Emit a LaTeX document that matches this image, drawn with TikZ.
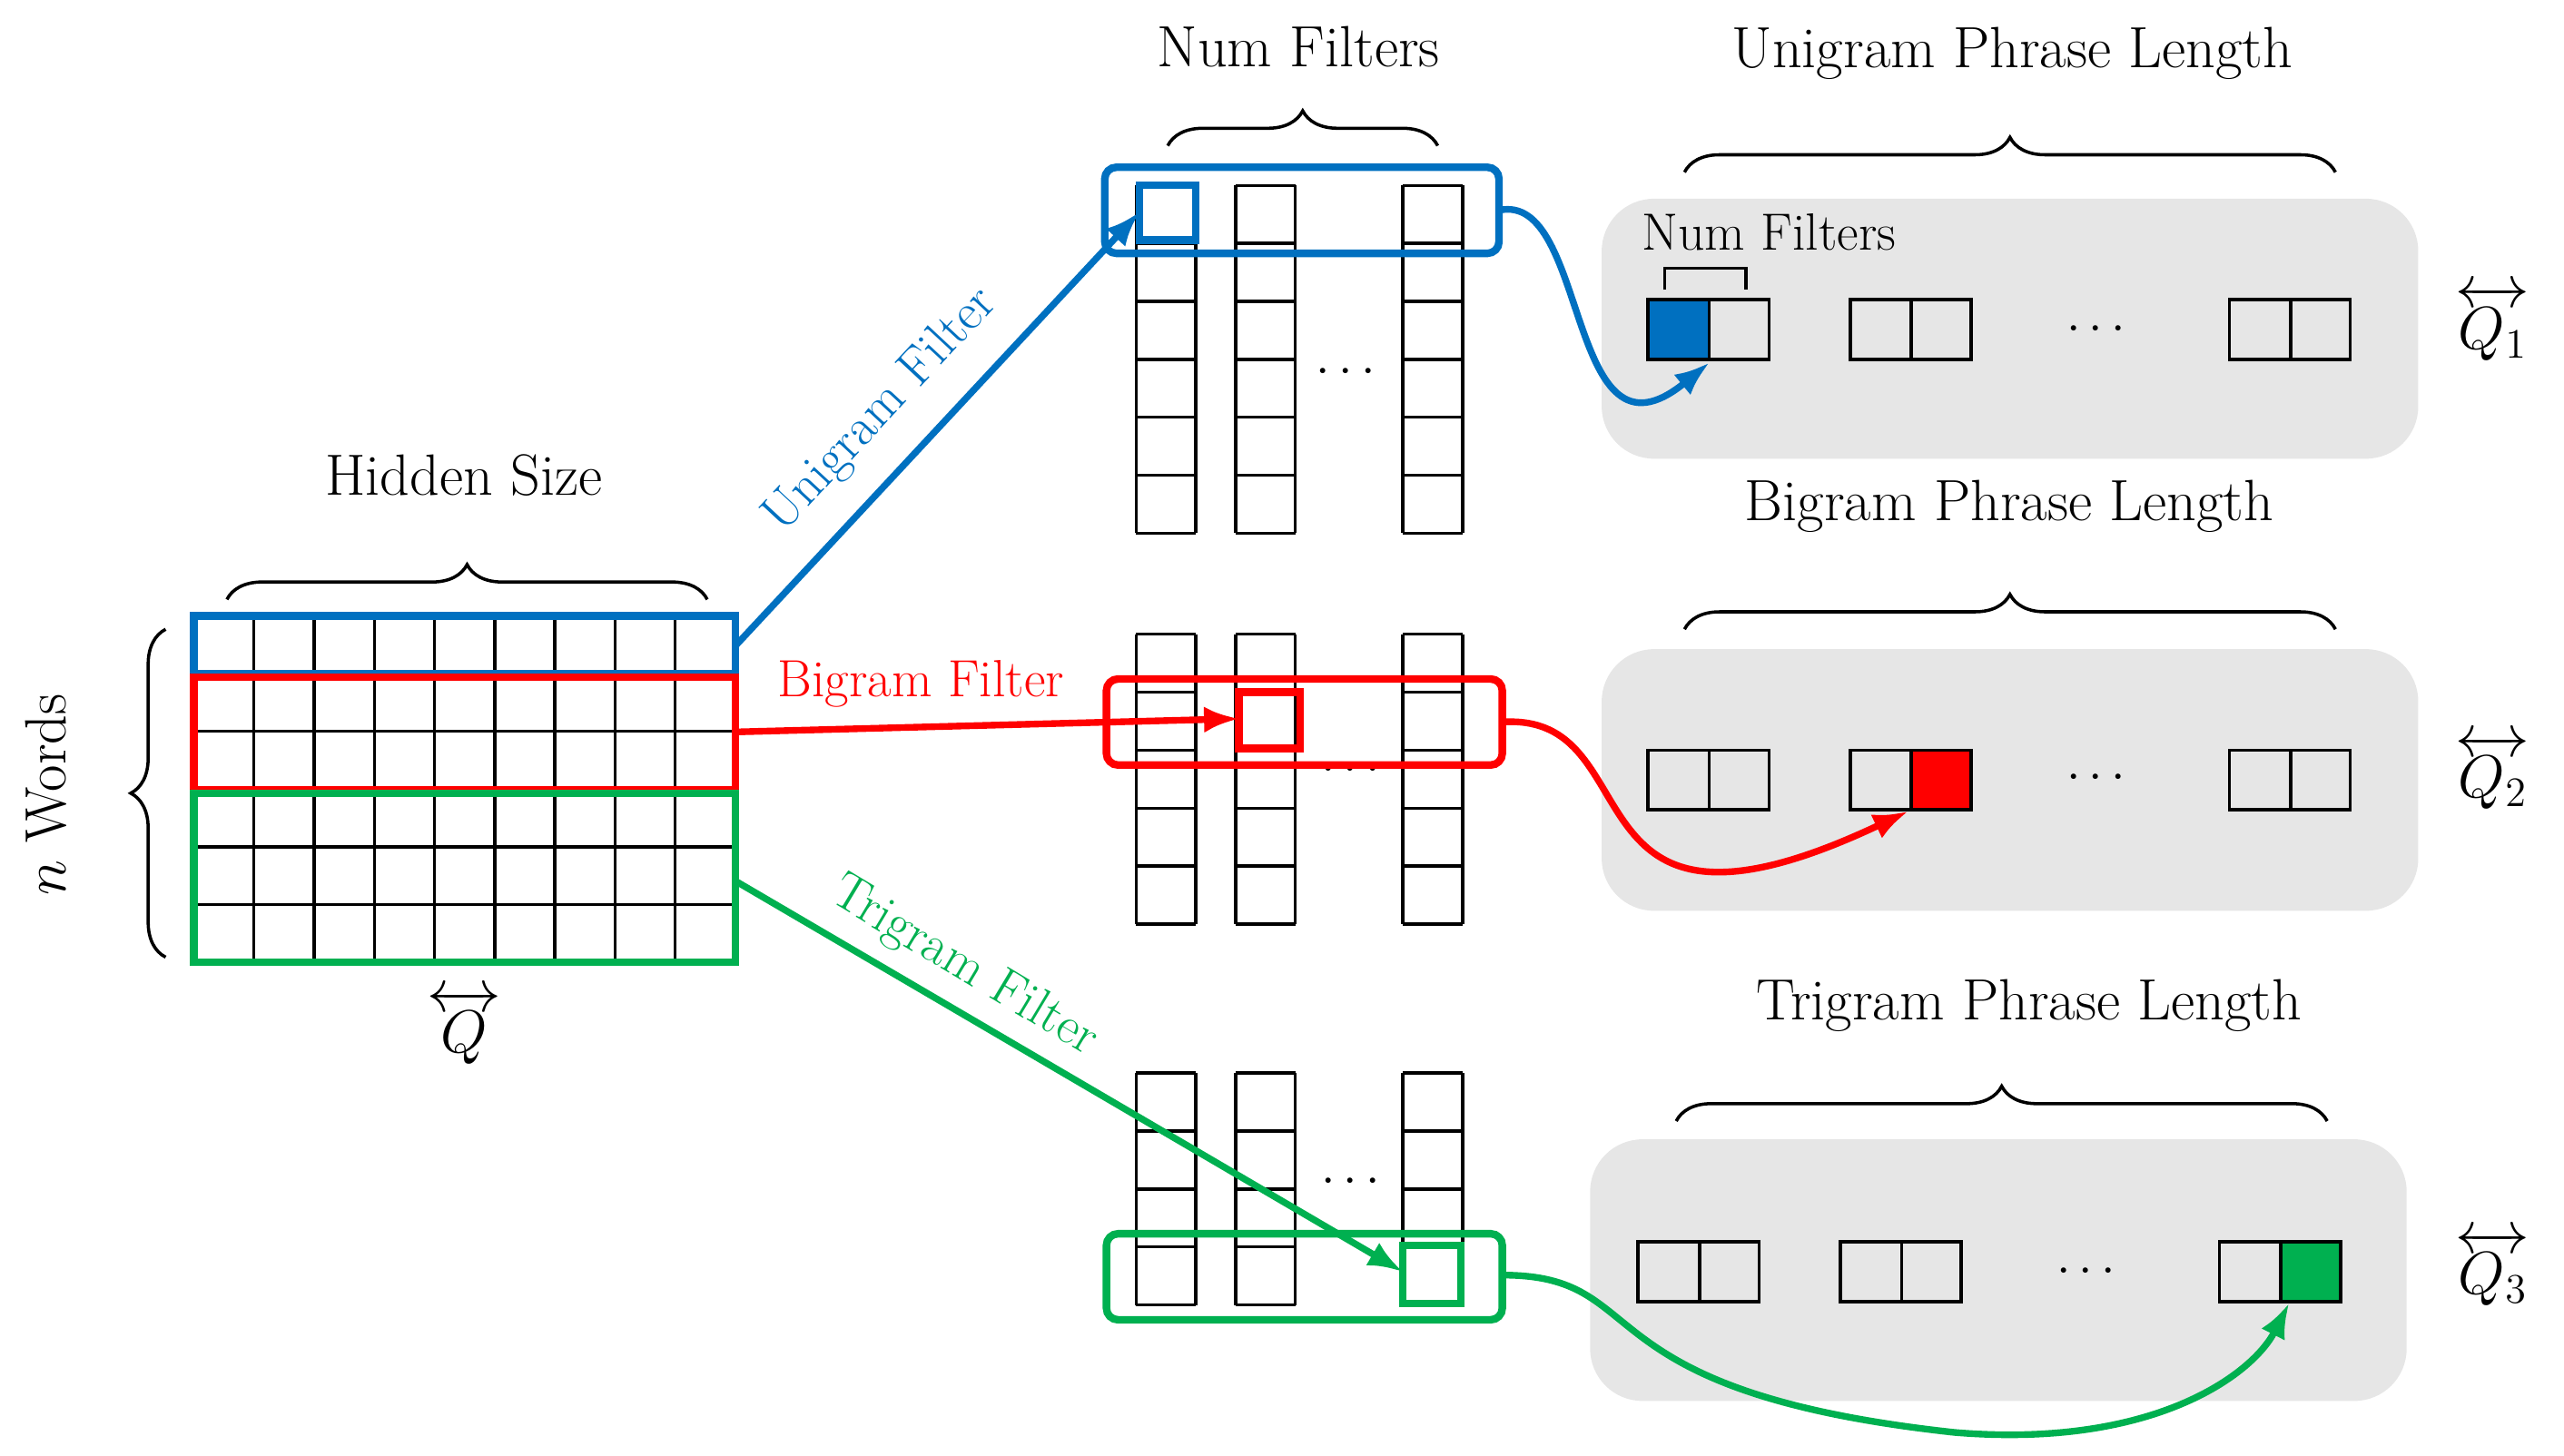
\documentclass[tikz,border=0pt]{standalone}
\usepackage{amsmath}
\usetikzlibrary{decorations.pathreplacing,arrows.meta}
\definecolor{cb}{RGB}{0,112,192}
\definecolor{cr}{RGB}{255,0,0}
\definecolor{cg}{RGB}{0,176,80}
\definecolor{pg}{RGB}{230,230,230}
\begin{document}
\begin{tikzpicture}[x=0.02cm,y=-0.02cm,
  grid/.style={line width=1.1pt,black},
  hl/.style={line width=2.6pt,rounded corners=4pt},
  conn/.style={line width=2.3pt,-{Latex[length=12pt,width=9pt]}},
  brc/.style={decorate,decoration={brace,amplitude=12pt},line width=1.1pt},
  big/.style={font=\fontsize{20}{24}\selectfont},
  mid/.style={font=\fontsize{18}{22}\selectfont},
  panel/.style={fill=pg,draw=none,rounded corners=18pt}]
\useasboundingbox (0,0) rectangle (1548,879);
% matrix
\foreach \i in {0,...,9} \draw[grid] ({117+\i*36.33},372) -- ({117+\i*36.33},581);
\foreach \j in {0,...,6} \draw[grid] (117,{372+\j*34.83}) -- (444,{372+\j*34.83});
\draw[hl,cb,rounded corners=0] (117,372) rectangle (444,407);
\draw[hl,cr,rounded corners=0] (117,409) rectangle (444,477);
\draw[hl,cg,rounded corners=0] (117,479) rectangle (444,581);
\coordinate (mb) at (444,390); \coordinate (mr) at (444,442); \coordinate (mg) at (444,532);
\draw[brc] (137,362) -- (427,362);
\node[big] (hs) at (280,287) {Hidden Size};
\draw[brc] (100,578) -- (100,380);
\node[big,rotate=90] (nw) at (28,480) {$n$ Words};
\node[big] (q) at (280,620) {$\overleftrightarrow{Q}$};
% columns
\foreach \x in {686,746,847}{
  \foreach \j in {0,...,6} \draw[grid] (\x,{112+\j*35}) -- ({\x+36},{112+\j*35});
  \draw[grid] (\x,112) -- (\x,322) ({\x+36},112) -- ({\x+36},322);
  \foreach \j in {0,...,5} \draw[grid] (\x,{383+\j*35}) -- ({\x+36},{383+\j*35});
  \draw[grid] (\x,383) -- (\x,558) ({\x+36},383) -- ({\x+36},558);
  \foreach \j in {0,...,4} \draw[grid] (\x,{648+\j*35}) -- ({\x+36},{648+\j*35});
  \draw[grid] (\x,648) -- (\x,788) ({\x+36},648) -- ({\x+36},788);
}
\node[mid] at (815,225) {$\cdots$};
\node[mid] at (818,465) {$\cdots$};
\node[mid] at (818,714) {$\cdots$};
\draw[brc] (705,88) -- (868,88);
\node[big] (nf) at (784,28) {Num Filters};
\draw[hl,cb] (667,101) rectangle (905,153);
\draw[hl,cb,rounded corners=0] (688,112) rectangle (722,145);
\draw[hl,cr] (668,410) rectangle (907,462);
\draw[hl,cr,rounded corners=0] (748,418) rectangle (785,452);
\draw[hl,cg] (668,745) rectangle (907,797);
\draw[hl,cg,rounded corners=0] (847,752) rectangle (882,787);
\coordinate (ub) at (688,128); \coordinate (br) at (748,434); \coordinate (tg) at (847,768);
% filter arrows
\draw[conn,cb] (mb) -- (ub);
\draw[conn,cr] (mr) -- (br);
\draw[conn,cg] (mg) -- (tg);
\node[mid,cb,rotate=47] at (532,248) {Unigram Filter};
\node[mid,cr] at (556,413) {Bigram Filter};
\node[mid,cg,rotate=-31] at (582,584) {Trigram Filter};
% panels
\fill[panel] (967,120) rectangle (1460,277);
\fill[panel] (967,392) rectangle (1460,550);
\fill[panel] (960,688) rectangle (1453,846);
\fill[cb] (995,181) rectangle (1032,217);
\fill[cr] (1154,453) rectangle (1190,489);
\fill[cg] (1377,750) rectangle (1413,786);
\foreach \x in {995,1117,1346}{
  \draw[grid] (\x,181) rectangle ({\x+37},217) ({\x+37},181) rectangle ({\x+73},217);
  \draw[grid] (\x,453) rectangle ({\x+37},489) ({\x+37},453) rectangle ({\x+73},489);}
\foreach \x in {989,1111,1340}
  \draw[grid] (\x,750) rectangle ({\x+37},786) ({\x+37},750) rectangle ({\x+73},786);
\node[mid] at (1268,199) {$\cdots$};
\node[mid] at (1268,470) {$\cdots$};
\node[mid] at (1262,768) {$\cdots$};
\node[mid] (nf2) at (1068,140) {Num Filters};
\draw[line width=1.1pt] (1005,175) -- (1005,162) -- (1054,162) -- (1054,175);
\draw[brc] (1017,104) -- (1410,104);
\node[big] at (1215,32) {Unigram Phrase Length};
\draw[brc] (1017,380) -- (1410,380);
\node[big] at (1213,306) {Bigram Phrase Length};
\draw[brc] (1012,677) -- (1405,677);
\node[big] at (1225,607) {Trigram Phrase Length};
\node[big] at (1505,195) {$\overleftrightarrow{Q_1}$};
\node[big] at (1505,466) {$\overleftrightarrow{Q_2}$};
\node[big] at (1505,766) {$\overleftrightarrow{Q_3}$};
\coordinate (c1) at (1032,219); \coordinate (c2) at (1152,490); \coordinate (c3) at (1382,787);
\coordinate (o1) at (905,127); \coordinate (o2) at (907,436); \coordinate (o3) at (907,770);
\draw[conn,cb] (o1) .. controls (960,115) and (945,290) .. (c1);
\draw[conn,cr] (o2) .. controls (1000,430) and (940,590) .. (c2);
\draw[conn,cg] (o3) .. controls (1000,770) and (950,840) .. (1180,865) .. controls (1300,875) and (1360,830) .. (c3);
\end{tikzpicture}
\end{document}
